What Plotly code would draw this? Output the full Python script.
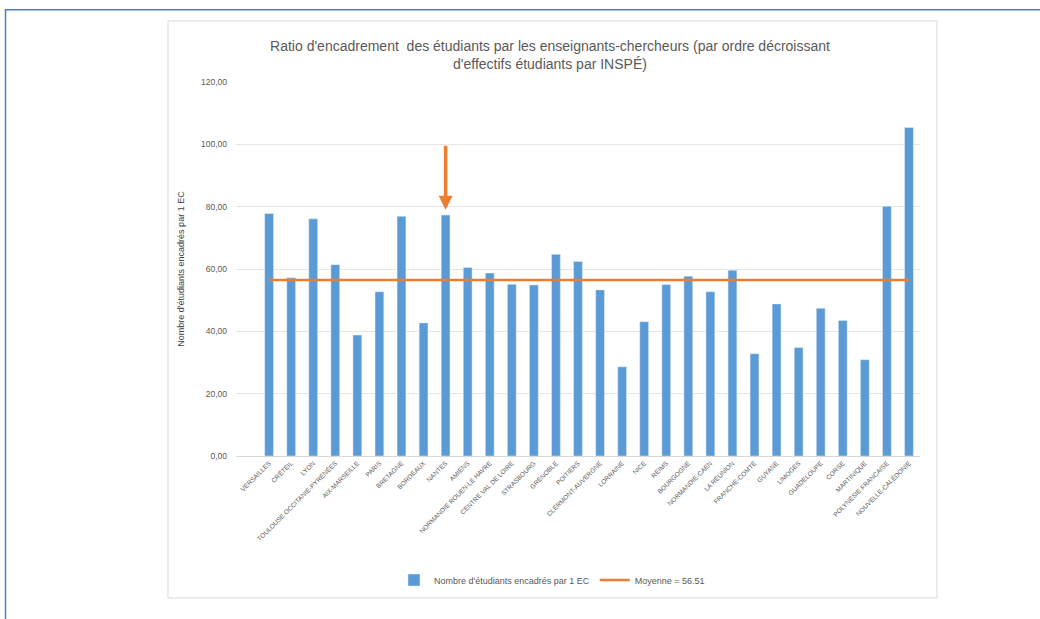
import plotly.graph_objects as go

categories = ["VERSAILLES", "CRÉTEIL", "LYON", "TOULOUSE OCCITANIE-PYRÉNÉES", "AIX-MARSEILLE",
              "PARIS", "BRETAGNE", "BORDEAUX", "NANTES", "AMIENS", "NORMANDIE ROUEN-LE HAVRE",
              "CENTRE VAL DE LOIRE", "STRASBOURG", "GRENOBLE", "POITIERS", "CLERMONT-AUVERGNE",
              "LORRAINE", "NICE", "REIMS", "BOURGOGNE", "NORMANDIE-CAEN", "LA RÉUNION",
              "FRANCHE-COMTÉ", "GUYANE", "LIMOGES", "GUADELOUPE", "CORSE", "MARTINIQUE",
              "POLYNÉSIE FRANCAISE", "NOUVELLE-CALÉDONIE"]
ratios = [77.8, 57.2, 76.1, 61.4, 38.8, 52.7, 76.9, 42.7, 77.3, 60.5, 58.7,
          55.1, 54.9, 64.7, 62.4, 53.3, 28.6, 43.1, 55.0, 57.7, 52.7, 59.6,
          32.8, 48.8, 34.8, 47.4, 43.5, 30.9, 80.1, 105.4]
mean_value = 56.51
mean_line = [mean_value] * len(categories)
y_tickvals = [0, 20, 40, 60, 80, 100, 120]
y_ticktext = ["0,00", "20,00", "40,00", "60,00", "80,00", "100,00", "120,00"]
arrow_target = "NANTES"
arrow_from, arrow_to = 100, 79

grey = "#595959"
fig = go.Figure()
fig.add_trace(go.Bar(x=categories, y=ratios, width=0.4, marker_color="#5B9BD5",
                     name="Nombre d'étudiants encadrés par 1 EC"))
fig.add_trace(go.Scatter(x=categories, y=mean_line, mode="lines",
                         line=dict(color="#ED7D31", width=2.5),
                         name="Moyenne = %.2f" % mean_value))

fig.add_annotation(x=arrow_target, y=arrow_to, ax=arrow_target, ay=arrow_from,
                   xref="x", yref="y", axref="x", ayref="y", text="",
                   showarrow=True, arrowhead=2, arrowsize=0.8, arrowwidth=3.5,
                   arrowcolor="#ED7D31")

L, R, T, B = 236, 920, 82, 456
W, H = 1040, 619
def px(x):
    return (x - L) / (R - L)
def py(y):
    return (B - y) / (B - T)

shapes = [
    dict(type="rect", xref="paper", yref="paper", x0=px(168), x1=px(937), y0=py(598), y1=py(21),
         line=dict(color="#d9d9d9", width=1), layer="below"),
    dict(type="line", xref="paper", yref="paper", x0=px(5), x1=px(1045), y0=py(9.8), y1=py(9.8),
         line=dict(color="#4a7fc8", width=1.5)),
    dict(type="line", xref="paper", yref="paper", x0=px(5.5), x1=px(5.5), y0=py(9), y1=py(625),
         line=dict(color="#4a7fc8", width=1.5)),
]

fig.update_layout(
    width=W, height=H,
    margin=dict(l=L, r=W - R, t=T, b=H - B),
    paper_bgcolor="white", plot_bgcolor="white",
    shapes=shapes,
    font=dict(family="Liberation Sans, Arial, sans-serif", color=grey),
    title=dict(text="Ratio d'encadrement  des étudiants par les enseignants-chercheurs (par ordre décroissant<br>d'effectifs étudiants par INSPÉ)",
               xref="paper", x=px(550), xanchor="center",
               yref="container", y=1 - 51 / H, yanchor="middle",
               font=dict(size=14, color=grey)),
    showlegend=True,
    legend=dict(orientation="h", xref="paper", x=px(552), xanchor="center",
                yref="paper", y=py(580), yanchor="middle",
                font=dict(size=9, color=grey), itemwidth=30),
    xaxis=dict(type="category", range=[-1.5, 29.5], tickangle=-45,
               tickfont=dict(size=6.5, color=grey), showgrid=False,
               showline=True, linecolor="#d9d9d9", linewidth=1, ticks=""),
    yaxis=dict(range=[0, 120], tickvals=y_tickvals, ticktext=y_ticktext,
               tickfont=dict(size=8.5, color=grey), gridcolor="#e6e6e6", gridwidth=1,
               zeroline=False, showline=False, ticks="", ticklabelstandoff=8,
               title=dict(text="Nombre d'étudiants encadrés par 1 EC",
                          font=dict(size=9, color="#404040"), standoff=14)),
    bargap=0.6,
)

fig.write_html("out.html", config={"displayModeBar": False},
               post_script="document.body.style.margin='0px';")
